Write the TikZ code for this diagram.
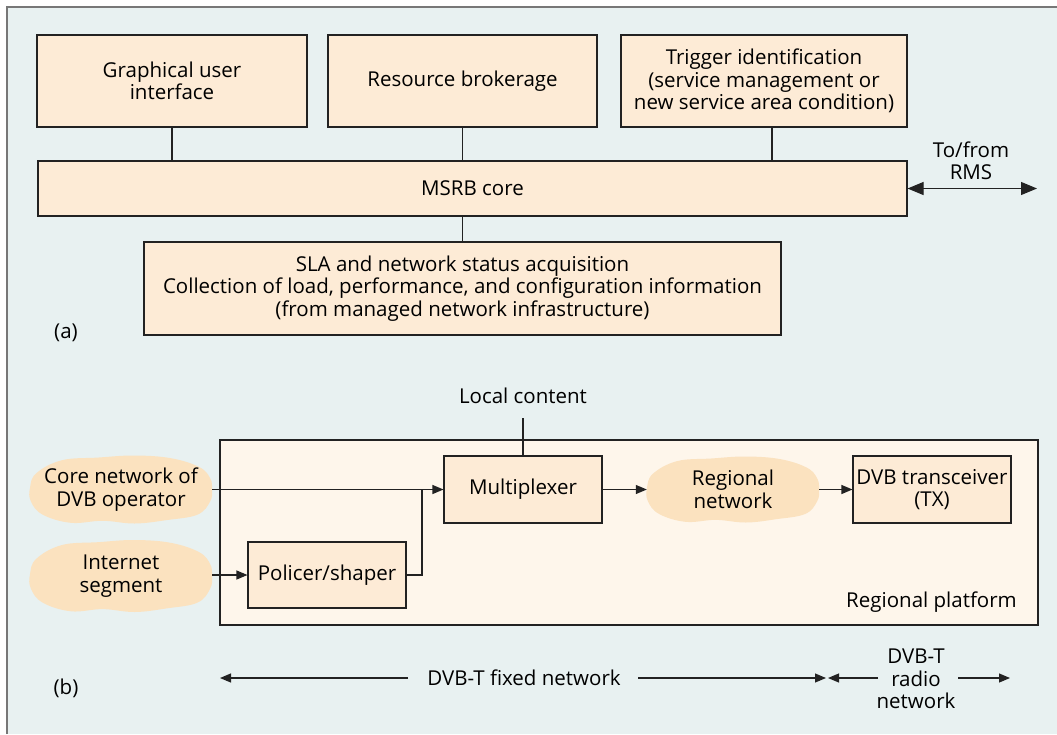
\documentclass[tikz,border=0pt]{standalone}
\usepackage{fontspec}
\setmainfont{Open Sans}
\usetikzlibrary{arrows.meta,calc}
\definecolor{bgcol}{HTML}{E8F1F1}
\definecolor{boxcol}{HTML}{FDEBD6}
\definecolor{platcol}{HTML}{FEF6EB}
\definecolor{cloudcol}{HTML}{FBE2BF}
\definecolor{framecol}{HTML}{777777}
\definecolor{linecol}{HTML}{222222}
\newcommand{\cloudblob}[4]{%
  \begin{scope}[shift={(#1,#2)},xscale=#3,yscale=#4]
    \fill[cloudcol] plot[smooth cycle,tension=0.65] coordinates {
      (1.0,0) (0.98,0.35) (0.84,0.74) (0.5,0.9) (0.15,1.0) (-0.2,0.92)
      (-0.55,0.98) (-0.86,0.74) (-0.99,0.35) (-1.0,-0.05) (-0.93,-0.48)
      (-0.65,-0.86) (-0.25,-0.94) (0.15,-1.0) (0.55,-0.92) (0.86,-0.66)
      (0.98,-0.33)};
  \end{scope}}
\begin{document}
\begin{tikzpicture}[x=1pt,y=-1pt,
  font=\fontsize{20.5}{22.5}\selectfont,
  box/.style={draw=linecol,line width=1.1pt,fill=boxcol,align=center,inner sep=0pt},
  cloudnode/.style={align=center,inner sep=0pt},
  lbl/.style={align=center,inner sep=0pt},
  conn/.style={draw=linecol,line width=1.1pt},
  arr/.style={conn,-{Triangle[length=11pt,width=9pt]}},
  bigarr/.style={conn,{Triangle[length=16pt,width=13pt]}-{Triangle[length=16pt,width=13pt]}}]
\useasboundingbox (0,0) rectangle (1057,734);
\fill[bgcol] (7,7) rectangle (1057,734);
\draw[framecol,line width=2pt] (7,734) -- (7,7) -- (1057,7);

% (a)
\node[box,minimum width=270pt,minimum height=92pt] (gui) at (172,81) {Graphical user\\interface};
\node[box,minimum width=269pt,minimum height=92pt] (res) at (462.5,81) {Resource brokerage};
\node[box,minimum width=286pt,minimum height=92pt] (trig) at (764,81) {Trigger identification\\(service management or\\new service area condition)};
\node[box,minimum width=869pt,minimum height=55pt] (msrb) at (472.5,188.5) {MSRB core};
\node[box,minimum width=637pt,minimum height=93pt] (sla) at (462.5,288.5) {SLA and network status acquisition\\Collection of load, performance, and configuration information\\(from managed network infrastructure)};
\coordinate (rms) at (1037,188.5);
\node[lbl] (rmst) at (971,161) {To/from\\RMS};
\node[lbl] (la) at (66,333) {(a)};

\draw[conn] (gui.south) -- (gui.south |- msrb.north);
\draw[conn] (res.south) -- (res.south |- msrb.north);
\path (trig.south) ++(8,0) coordinate (t1);
\draw[conn] (t1) -- (t1 |- msrb.north);
\draw[conn] (msrb.south -| sla.north) -- (sla.north);
\draw[bigarr] (msrb.east) -- (rms);

% (b)
\node[draw=linecol,line width=1.1pt,fill=platcol,minimum width=818pt,minimum height=185pt,inner sep=0pt] (plat) at (629,532.5) {};
\node[lbl,anchor=east] (platt) at (1017,602) {Regional platform};
\node[box,minimum width=158pt,minimum height=67pt] (mux) at (523,489.5) {Multiplexer};
\node[box,minimum width=158pt,minimum height=67pt] (dvb) at (932,489.5) {DVB transceiver\\(TX)};
\node[box,minimum width=158pt,minimum height=66pt] (pol) at (327,575) {Policer/shaper};

\cloudblob{121}{489.5}{91}{34}
\node[cloudnode,minimum width=182pt,minimum height=67pt] (core) at (121,489.5) {Core network of\\DVB operator};
\cloudblob{121}{576}{91}{36}
\node[cloudnode,minimum width=182pt,minimum height=72pt] (inet) at (121,576) {Internet\\segment};
\cloudblob{733}{489.5}{86}{33}
\node[cloudnode,minimum width=172pt,minimum height=66pt] (reg) at (733,489.5) {Regional\\network};

\node[lbl] (local) at (523,396) {Local content};
\coordinate (lc) at (523,418);
\draw[conn] (lc) -- (mux.north);

\draw[arr] (core.east) -- (mux.west);
\coordinate (junc) at (422,489.5);
\draw[conn] (pol.east) -| (junc);
\draw[arr] (inet.east |- pol.west) -- (pol.west);
\draw[arr] (mux.east) -- (reg.west);
\draw[arr] (reg.east) -- (dvb.west);

% bottom
\node[lbl] (fixed) at (524,678) {DVB-T fixed network};
\node[lbl] (radio) at (916,679) {DVB-T\\radio\\network};
\coordinate (f1) at (220,678);
\coordinate (f2) at (826,678);
\coordinate (r1) at (828,678);
\coordinate (r2) at (1010,678);
\coordinate (f1s) at (408,678);
\coordinate (f2s) at (638,678);
\coordinate (r1s) at (878,678);
\coordinate (r2s) at (958,678);
\draw[arr] (f1s) -- (f1);
\draw[arr] (f2s) -- (f2);
\draw[arr] (r1s) -- (r1);
\draw[arr] (r2s) -- (r2);
\node[lbl] (lb) at (66,688) {(b)};
\end{tikzpicture}
\end{document}
